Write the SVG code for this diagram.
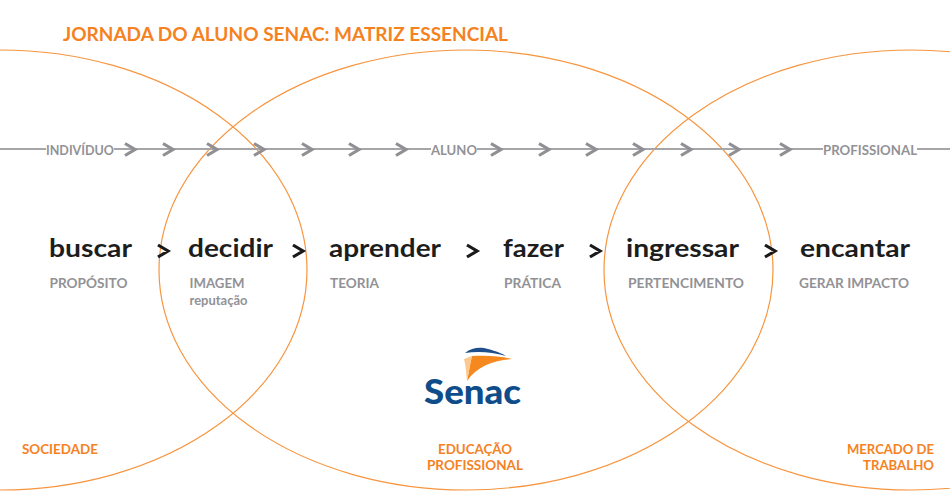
<svg xmlns="http://www.w3.org/2000/svg" width="950" height="496" viewBox="0 0 950 496">
<style>
text{font-family:"Lato","Liberation Sans",sans-serif}
.ring{fill:none;stroke:#f7953f;stroke-width:1.200}
.ln{fill:none;stroke:#a6a6a9;stroke-width:2}
.chev{fill:none;stroke:#8f8f94;stroke-width:3.200}
.gt{fill:none;stroke:#1a1a1a;stroke-width:3.200}
.word{font-size:25px;font-weight:700;fill:#1d1d1d}
.sub{font-size:14px;font-weight:700;fill:#929296}
.tl{font-size:13.500px;font-weight:700;fill:#929296}
.or{font-size:13.200px;font-weight:700;fill:#f5821f}
</style>
<rect width="950" height="496" fill="#fff"/>
<text x="63" y="40.500" font-size="19.500" font-weight="700" fill="#f5821f" textLength="445" lengthAdjust="spacingAndGlyphs">JORNADA DO ALUNO SENAC: MATRIZ ESSENCIAL</text>
<g id="connectors">
<ellipse class="ring" cx="0" cy="270" rx="307" ry="220"/>
<ellipse class="ring" cx="466" cy="270" rx="307" ry="220"/>
<ellipse class="ring" cx="911" cy="270" rx="307" ry="220"/>
<path class="ln" d="M0 149H46M114 149H431M477 149H823M917 149H950"/>
<path class="chev" d="M125 143.500l10 6-10 6M163 143.500l10 6-10 6M207 143.500l10 6-10 6M254 143.500l10 6-10 6M302 143.500l10 6-10 6M349 143.500l10 6-10 6M396 143.500l10 6-10 6M491 143.500l10 6-10 6M539 143.500l10 6-10 6M586 143.500l10 6-10 6M633 143.500l10 6-10 6M681 143.500l10 6-10 6M729 143.500l10 6-10 6M780 143.500l10 6-10 6"/>
<path class="gt" d="M158 245l10 6-10 6M293 245l10 6-10 6M467 245l10 6-10 6M590 245l10 6-10 6M765 245l10 6-10 6"/>
</g>
<g id="timeline-labels">
<text class="tl" x="46" y="154.500" textLength="68" lengthAdjust="spacingAndGlyphs">INDIVÍDUO</text>
<text class="tl" x="431" y="154.500" textLength="46" lengthAdjust="spacingAndGlyphs">ALUNO</text>
<text class="tl" x="823" y="154.500" textLength="94" lengthAdjust="spacingAndGlyphs">PROFISSIONAL</text>
</g>
<g id="node-buscar"><text class="word" x="49" y="257" textLength="83" lengthAdjust="spacingAndGlyphs">buscar</text><text class="sub" x="49.500" y="288" textLength="78" lengthAdjust="spacingAndGlyphs">PROPÓSITO</text></g>
<g id="node-decidir"><text class="word" x="188" y="257" textLength="85" lengthAdjust="spacingAndGlyphs">decidir</text><text class="sub" x="189.500" y="288" textLength="55" lengthAdjust="spacingAndGlyphs">IMAGEM</text><text x="189.500" y="305" font-size="12.500" font-weight="700" fill="#929296" textLength="58" lengthAdjust="spacingAndGlyphs">reputação</text></g>
<g id="node-aprender"><text class="word" x="329" y="257" textLength="112" lengthAdjust="spacingAndGlyphs">aprender</text><text class="sub" x="330" y="288" textLength="49" lengthAdjust="spacingAndGlyphs">TEORIA</text></g>
<g id="node-fazer"><text class="word" x="503" y="257" textLength="61" lengthAdjust="spacingAndGlyphs">fazer</text><text class="sub" x="504" y="288" textLength="57" lengthAdjust="spacingAndGlyphs">PRÁTICA</text></g>
<g id="node-ingressar"><text class="word" x="626" y="257" textLength="113" lengthAdjust="spacingAndGlyphs">ingressar</text><text class="sub" x="628" y="288" textLength="116" lengthAdjust="spacingAndGlyphs">PERTENCIMENTO</text></g>
<g id="node-encantar"><text class="word" x="800" y="257" textLength="110" lengthAdjust="spacingAndGlyphs">encantar</text><text class="sub" x="799" y="288" textLength="110" lengthAdjust="spacingAndGlyphs">GERAR IMPACTO</text></g>
<g id="logo-senac">
<path d="M465 353C472 347 481 347 488 349C496 351 503 354 506 356C492 352 478 351 465 353Z" fill="#1f4e8c"/>
<path d="M472 356C486 355 501 356 512 359C494 360 477 366 467 381C469 372 470 363 472 356Z" fill="#f5891f"/>
<path d="M464 359L472 356C470 364 469 372 467 381C466 373 466 366 464 359Z" fill="#fbc88f"/>
<text x="424" y="404" font-size="34" font-weight="900" fill="#0f4c8a" textLength="97" lengthAdjust="spacingAndGlyphs">Senac</text>
</g>
<g id="region-sociedade"><text class="or" x="22" y="454" textLength="76" lengthAdjust="spacingAndGlyphs">SOCIEDADE</text></g>
<g id="region-educacao"><text class="or" x="475" y="453.500" text-anchor="middle" textLength="74" lengthAdjust="spacingAndGlyphs">EDUCAÇÃO</text><text class="or" x="475" y="469.500" text-anchor="middle" textLength="96" lengthAdjust="spacingAndGlyphs">PROFISSIONAL</text></g>
<g id="region-mercado"><text class="or" x="934" y="453.500" text-anchor="end" textLength="87" lengthAdjust="spacingAndGlyphs">MERCADO DE</text><text class="or" x="934" y="469.500" text-anchor="end" textLength="71" lengthAdjust="spacingAndGlyphs">TRABALHO</text></g>
</svg>
